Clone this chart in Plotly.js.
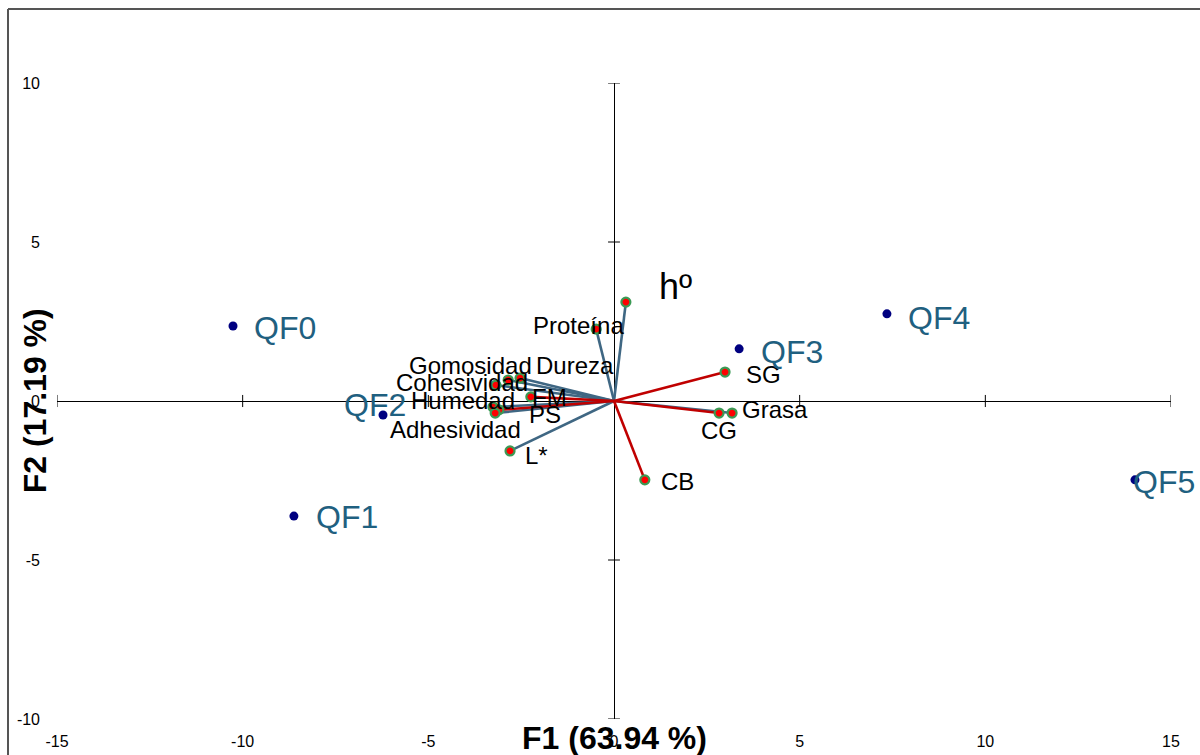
<!DOCTYPE html>
<html>
<head>
<meta charset="utf-8">
<script src="https://cdn.plot.ly/plotly-3.0.1.min.js"></script>
<style>html,body{margin:0;padding:0;background:#fff;}#chart{width:1200px;height:755px;}</style>
</head>
<body>
<div id="chart"></div>
<script>
// Observations (scores)
const obsNames = ['QF0','QF1','QF2','QF3','QF4','QF5'];
const obsF1 = [-10.26, -8.62, -6.22, 3.37, 7.35, 14.03];
const obsF2 = [2.36, -3.62, -0.44, 1.64, 2.74, -2.48];

// Variables (loadings)
const varNames = ['hº','Proteína','Gomosidad','Dureza','Cohesividad','Humedad','FM','PS','Adhesividad','L*','SG','Grasa','CG','CB'];
const varF1 = [0.32, -0.48, -2.85, -2.53, -3.18, -3.26, -2.24, -3.10, -3.20, -2.80, 2.99, 3.18, 2.83, 0.83];
const varF2 = [3.11, 2.26, 0.66, 0.72, 0.50, -0.19, 0.13, -0.28, -0.38, -1.57, 0.91, -0.38, -0.38, -2.48];
const redVars = ['FM','PS','SG','CG','CB'];

// Axis ticks
const xTicks = [-15, -10, -5, 0, 5, 10, 15];
const yTicks = [-10, -5, 0, 5, 10];
const xTitle = 'F1 (63.94 %)';
const yTitle = 'F2 (17.19 %)';

// Styling / label placement (pixel offsets)
const varLabelStyle = {
  'hº': {dx: 50, dy: 16, size: 36},
  'Proteína': {dx: -18, dy: 4},
  'Gomosidad': {dx: -38, dy: 15},
  'Dureza': {dx: 55, dy: 13},
  'Cohesividad': {dx: -34, dy: 3},
  'Humedad': {dx: -30, dy: 7},
  'FM': {dx: 19, dy: -1},
  'PS': {dx: 46, dy: -5},
  'Adhesividad': {dx: -40, dy: -16},
  'L*': {dx: 26, dy: -5},
  'SG': {dx: 38, dy: -2},
  'Grasa': {dx: 43, dy: 4},
  'CG': {dx: 0, dy: -17},
  'CB': {dx: 33, dy: -2}
};
const obsLabelOffset = {
  'QF0': {dx: 52, dy: -2}, 'QF1': {dx: 53, dy: -1}, 'QF2': {dx: -8, dy: 10},
  'QF3': {dx: 53, dy: -3}, 'QF4': {dx: 52, dy: -4}, 'QF5': {dx: 29, dy: -2}
};
const BLUE = '#3f6783', RED = '#c00000', QFC = '#1f6080';

function vecTrace(filterFn, color) {
  const xs = [], ys = [];
  varNames.forEach((n, i) => {
    if (filterFn(n)) { xs.push(0, varF1[i], null); ys.push(0, varF2[i], null); }
  });
  return {x: xs, y: ys, mode: 'lines', line: {color: color, width: 2.6}, hoverinfo: 'skip', showlegend: false};
}

// tick marks built from tick arrays
const tx = [], ty = [];
const xTickLen = 0.19, yTickLen = 0.16;
xTicks.filter(v => v !== 0).forEach(v => { tx.push(v, v, null); ty.push(-xTickLen, xTickLen, null); });
yTicks.filter(v => v !== 0).forEach(v => { tx.push(-yTickLen, yTickLen, null); ty.push(v, v, null); });

const traces = [
  {x: tx, y: ty, mode: 'lines', line: {color: '#000', width: 1}, hoverinfo: 'skip', showlegend: false},
  vecTrace(n => !redVars.includes(n), BLUE),
  vecTrace(n => redVars.includes(n), RED),
  {x: varF1, y: varF2, mode: 'markers', text: varNames, showlegend: false,
   marker: {color: '#ff0000', size: 9, line: {color: '#3c9a55', width: 2.2}}},
  {x: obsF1, y: obsF2, mode: 'markers', text: obsNames, showlegend: false,
   marker: {color: '#000080', size: 9}}
];

const annotations = [];
varNames.forEach((n, i) => {
  const s = varLabelStyle[n];
  annotations.push({x: varF1[i], y: varF2[i], text: n, showarrow: false, xshift: s.dx, yshift: s.dy,
    xanchor: 'center', yanchor: 'middle', font: {family: 'Liberation Sans, Arial', size: s.size || 24, color: '#000'}});
});
obsNames.forEach((n, i) => {
  const s = obsLabelOffset[n];
  annotations.push({x: obsF1[i], y: obsF2[i], text: n, showarrow: false, xshift: s.dx, yshift: s.dy,
    xanchor: 'center', yanchor: 'middle', font: {family: 'Liberation Sans, Arial', size: 32, color: QFC}});
});
// axis titles (drawn across the axes, as in the reference)
annotations.push({xref: 'paper', yref: 'paper', x: 0.5, y: -0.03, yanchor: 'middle', xanchor: 'center', showarrow: false,
  text: '<b>' + xTitle + '</b>', font: {family: 'Liberation Sans, Arial', size: 32, color: '#000'}});
annotations.push({xref: 'paper', yref: 'paper', x: -0.0195, y: 0.5, xanchor: 'center', yanchor: 'middle', textangle: -90, showarrow: false,
  text: '<b>' + yTitle + '</b>', font: {family: 'Liberation Sans, Arial', size: 32, color: '#000'}});

const layout = {
  width: 1200, height: 755,
  margin: {l: 57, r: 29, t: 83, b: 36},
  paper_bgcolor: '#fff', plot_bgcolor: '#fff',
  showlegend: false,
  font: {family: 'Liberation Sans, Arial', size: 16, color: '#000'},
  xaxis: {range: [-15, 15], tickvals: xTicks, ticktext: xTicks.map(String), showgrid: false,
    zeroline: true, zerolinecolor: '#000', zerolinewidth: 1, showline: false, ticks: '',
    ticklabelstandoff: 11, tickfont: {size: 16}, fixedrange: true},
  yaxis: {range: [-10, 10], tickvals: yTicks, ticktext: yTicks.map(String), showgrid: false,
    zeroline: true, zerolinecolor: '#000', zerolinewidth: 1, showline: false, ticks: '',
    ticklabelstandoff: 16, tickfont: {size: 16}, fixedrange: true},
  annotations: annotations,
  shapes: [
    {type: 'line', xref: 'paper', yref: 'paper', x0: (8 - 57) / 1114, x1: 1.05, y0: (719 - 9) / 636, y1: (719 - 9) / 636,
     line: {color: '#555', width: 2}},
    {type: 'line', xref: 'paper', yref: 'paper', x0: (8 - 57) / 1114, x1: (8 - 57) / 1114, y0: (719 - 9) / 636, y1: -0.1,
     line: {color: '#555', width: 2}}
  ]
};

Plotly.newPlot('chart', traces, layout, {displayModeBar: false, staticPlot: true});
</script>
</body>
</html>
